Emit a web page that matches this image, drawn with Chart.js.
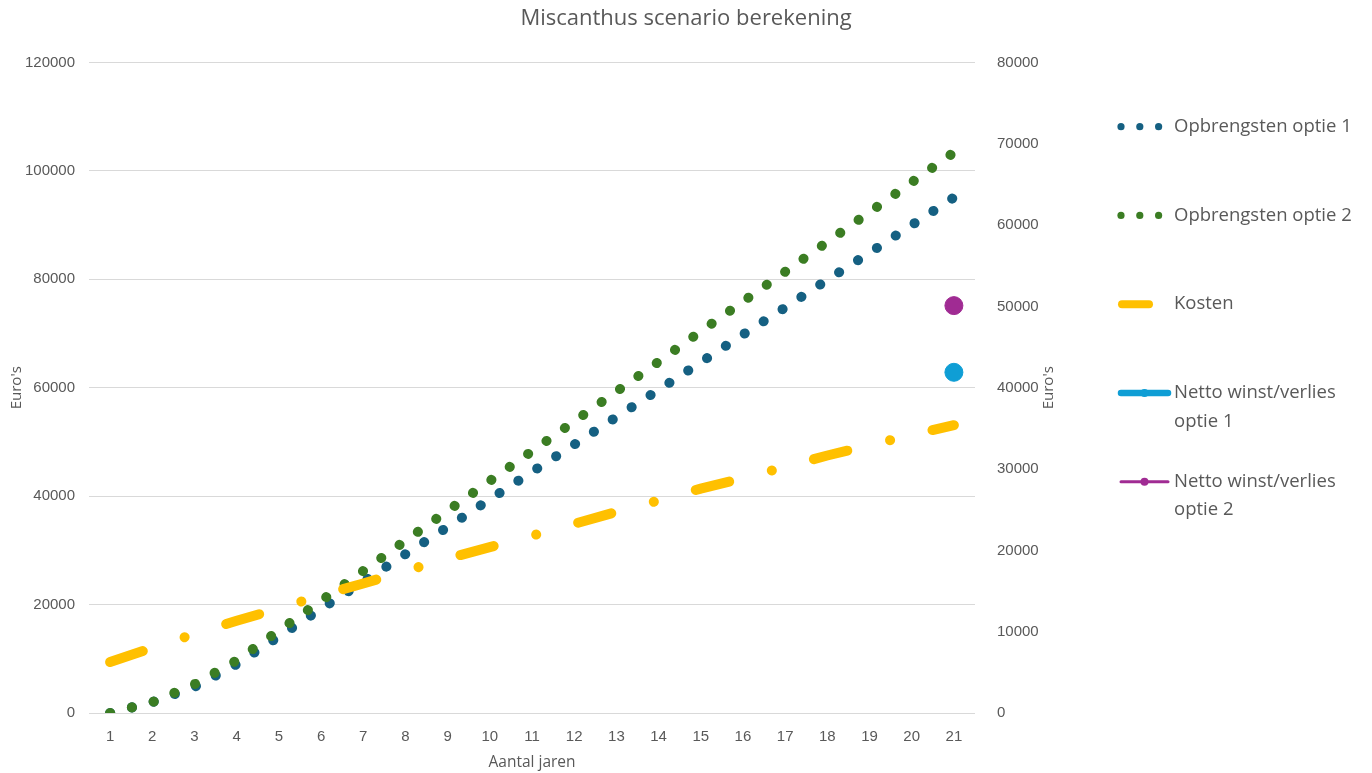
<!DOCTYPE html>
<html>
<head>
<meta charset="utf-8">
<title>Miscanthus scenario berekening</title>
<script src="https://cdn.jsdelivr.net/npm/chart.js@4.4.1/dist/chart.umd.min.js"></script>
<style>
  html, body { margin: 0; padding: 0; background: #fff; }
</style>
</head>
<body>
<canvas id="lineChart" width="1372" height="773"></canvas>
<script>
// DATA
const jaren = ["1", "2", "3", "4", "5", "6", "7", "8", "9", "10", "11",
               "12", "13", "14", "15", "16", "17", "18", "19", "20", "21"];
const opbrengstenOptie1 = [0, 2000, 4800, 9000, 14100, 19200, 24200, 29300, 34300, 39400, 44500,
                           49500, 54600, 59600, 64700, 69800, 74800, 79900, 84900, 90000, 95100];
const opbrengstenOptie2 = [0, 2000, 5300, 9700, 15200, 20700, 26200, 31800, 37300, 42800, 48300,
                           53800, 59300, 64800, 70400, 75900, 81400, 86900, 92400, 97900, 103400];
const kosten = [9400, 12000, 14600, 17000, 19300, 21700, 23900, 26200, 28500, 30600, 32700,
                34900, 37100, 39200, 41400, 43300, 45400, 47500, 49400, 51300, 53100];
const nettoOptie1 = [null, null, null, null, null, null, null, null, null, null, null,
                     null, null, null, null, null, null, null, null, null, 41900];
const nettoOptie2 = [null, null, null, null, null, null, null, null, null, null, null,
                     null, null, null, null, null, null, null, null, null, 50100];
const linksMax = 120000, linksStap = 20000;
const rechtsMax = 80000, rechtsStap = 10000;

const grijs = "#595959";
const tickFont = { family: "'Liberation Sans', Arial, sans-serif", size: 15 };
const tekstFont = "'Open Sans', sans-serif";

// legend + right axis title drawn by hand (Excel style)
const zijLegenda = {
    id: "zijLegenda",
    afterDraw(chart) {
        const ctx = chart.ctx;
        const area = chart.chartArea;
        ctx.save();

        // right axis title, reading upwards
        const t = chart.scales.y1.options.title.text;
        ctx.translate(1049, (area.top + area.bottom) / 2);
        ctx.rotate(-Math.PI / 2);
        ctx.font = "15px " + tekstFont;
        ctx.fillStyle = grijs;
        ctx.textAlign = "center";
        ctx.textBaseline = "middle";
        ctx.fillText(t, 0, 0);
        ctx.setTransform(1, 0, 0, 1, 0, 0);

        const y0 = 126.7, stap = 88.75, regel = 28.5, tekstX = 1174, maxB = 192;
        chart.data.datasets.forEach((ds, i) => {
            const y = y0 + i * stap;
            ctx.strokeStyle = ds.borderColor;
            ctx.fillStyle = ds.borderColor;
            ctx.lineCap = "round";
            if (ds.legendSymbol === "dots") {
                for (let k = 0; k < 3; k++) {
                    ctx.beginPath();
                    ctx.arc(1121 + k * 18.8, y, 3.6, 0, 2 * Math.PI);
                    ctx.fill();
                }
            } else if (ds.legendSymbol === "dash") {
                ctx.lineWidth = 8;
                ctx.beginPath();
                ctx.moveTo(1122, y);
                ctx.lineTo(1149, y);
                ctx.stroke();
            } else {
                ctx.lineWidth = ds.legendLineWidth;
                ctx.beginPath();
                ctx.moveTo(1121, y);
                ctx.lineTo(1168, y);
                ctx.stroke();
                ctx.beginPath();
                ctx.arc(1144.5, y, 4, 0, 2 * Math.PI);
                ctx.fill();
            }

            // text with simple word wrap
            ctx.font = "18.5px " + tekstFont;
            ctx.fillStyle = grijs;
            ctx.textAlign = "left";
            ctx.textBaseline = "middle";
            const woorden = ds.label.split(" ");
            let regels = [], huidig = "";
            woorden.forEach(w => {
                const test = huidig ? huidig + " " + w : w;
                if (ctx.measureText(test).width > maxB && huidig) {
                    regels.push(huidig);
                    huidig = w;
                } else {
                    huidig = test;
                }
            });
            regels.push(huidig);
            regels.forEach((r, j) => ctx.fillText(r, tekstX, y + j * regel));
        });
        ctx.restore();
    }
};

new Chart(document.getElementById("lineChart"), {
    type: "line",
    data: {
        labels: jaren,
        datasets: [{
            label: "Opbrengsten optie 1",
            data: opbrengstenOptie1,
            borderColor: "#156082",
            borderWidth: 10,
            borderDash: [0.1, 22.4],
            borderCapStyle: "round",
            pointRadius: 0,
            yAxisID: "y",
            order: 5,
            legendSymbol: "dots"
        }, {
            label: "Opbrengsten optie 2",
            data: opbrengstenOptie2,
            borderColor: "#3B7D23",
            borderWidth: 10,
            borderDash: [0.1, 22.4],
            borderCapStyle: "round",
            pointRadius: 0,
            yAxisID: "y",
            order: 4,
            legendSymbol: "dots"
        }, {
            label: "Kosten",
            data: kosten,
            borderColor: "#FFC000",
            borderWidth: 10,
            borderDash: [34.5, 44, 0.1, 43.5],
            borderCapStyle: "round",
            pointRadius: 0,
            yAxisID: "y",
            order: 3,
            legendSymbol: "dash"
        }, {
            label: "Netto winst/verlies optie 1",
            data: nettoOptie1,
            borderColor: "#0F9ED5",
            backgroundColor: "#0F9ED5",
            borderWidth: 7,
            pointRadius: 9,
            pointBorderWidth: 1,
            yAxisID: "y1",
            order: 2,
            legendSymbol: "marker",
            legendLineWidth: 6.5
        }, {
            label: "Netto winst/verlies optie 2",
            data: nettoOptie2,
            borderColor: "#A02B93",
            backgroundColor: "#A02B93",
            borderWidth: 3,
            pointRadius: 9,
            pointBorderWidth: 1,
            yAxisID: "y1",
            order: 1,
            legendSymbol: "marker",
            legendLineWidth: 3
        }]
    },
    options: {
        responsive: false,
        animation: false,
        devicePixelRatio: 1,
        elements: { line: { tension: 0, fill: false } },
        layout: { padding: 0 },
        plugins: {
            legend: { display: false },
            tooltip: { enabled: false },
            title: {
                display: true,
                text: "Miscanthus scenario berekening",
                color: grijs,
                font: { family: tekstFont, size: 22, weight: "normal" },
                padding: { top: 5.5, bottom: 30.6 }
            }
        },
        scales: {
            x: {
                offset: true,
                grid: { display: false },
                border: { display: false },
                ticks: { color: grijs, font: tickFont, padding: 7, maxRotation: 0 },
                title: {
                    display: true,
                    text: "Aantal jaren",
                    color: grijs,
                    font: { family: tekstFont, size: 15.5 },
                    padding: { top: 0, bottom: 1 }
                },
                afterFit: s => { s.height = 60; }
            },
            y: {
                position: "left",
                min: 0,
                max: linksMax,
                ticks: { stepSize: linksStap, color: grijs, font: tickFont, padding: 14,
                         callback: v => String(v) },
                grid: { color: "#d9d9d9", lineWidth: 1, drawTicks: false },
                border: { display: false },
                title: {
                    display: true,
                    text: "Euro's",
                    color: grijs,
                    font: { family: tekstFont, size: 15 },
                    padding: { top: 8, bottom: 0 }
                },
                afterFit: s => { s.width = 89; }
            },
            y1: {
                position: "right",
                min: 0,
                max: rechtsMax,
                ticks: { stepSize: rechtsStap, color: grijs, font: tickFont, padding: 14,
                         callback: v => String(v) },
                grid: { display: false },
                border: { display: false },
                title: { display: false, text: "Euro's" },
                // room for the right axis and the legend
                afterFit: s => { s.width = 397; }
            }
        }
    },
    plugins: [zijLegenda]
});
</script>
</body>
</html>
